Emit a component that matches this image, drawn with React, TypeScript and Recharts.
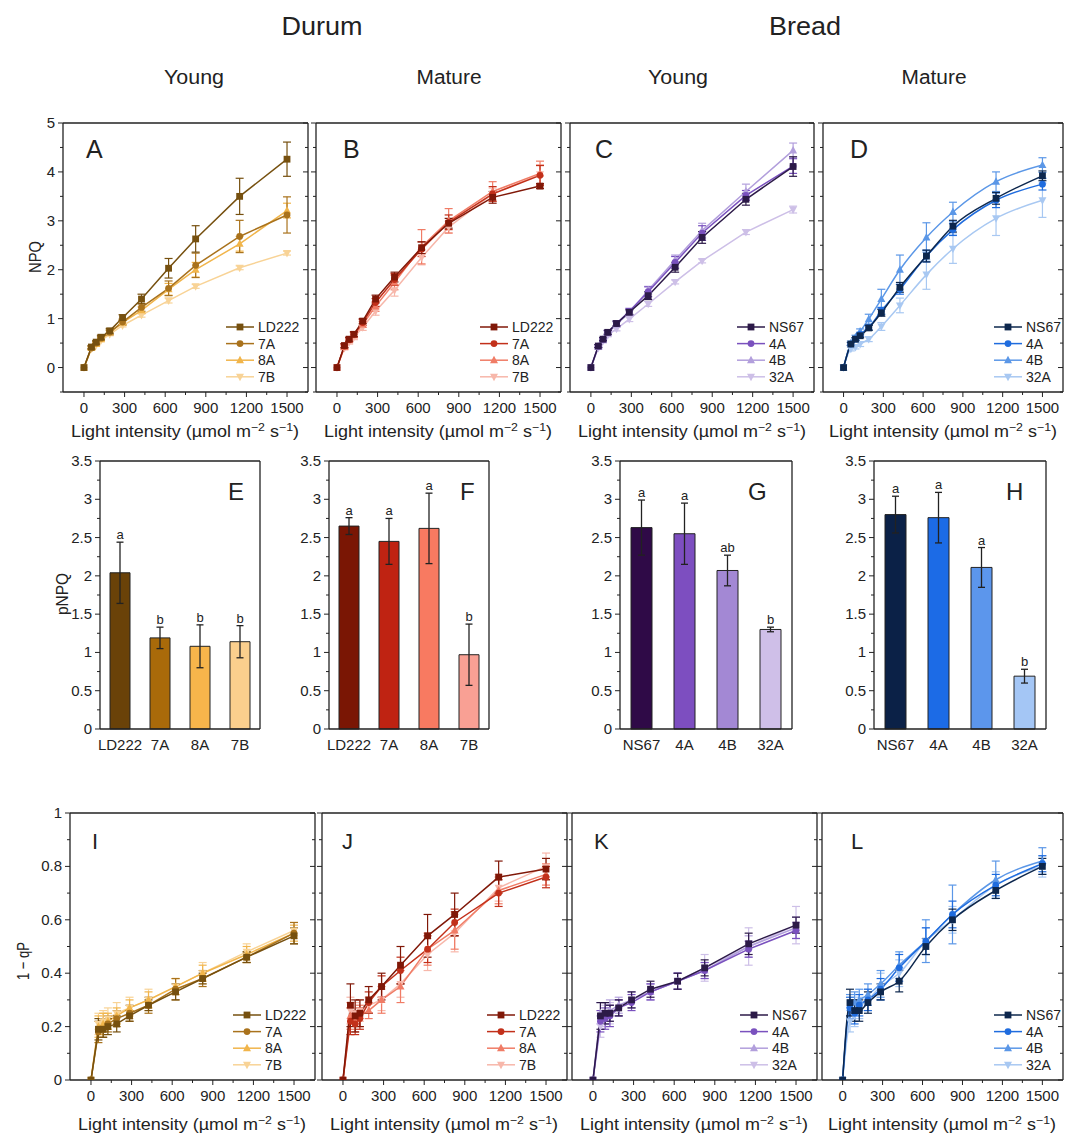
import React from 'react'
import { LineChart, Line, BarChart, Bar, Cell, XAxis, YAxis, ErrorBar, ReferenceLine, LabelList } from 'recharts'

const FONT = '"Liberation Sans", Arial, sans-serif'
const INK = '#222'

// light steps (µmol m-2 s-1)
const LIGHT = [0, 55, 90, 125, 190, 285, 425, 625, 825, 1150, 1500]
const LIGHT_TICKS = [0, 150, 300, 450, 600, 750, 900, 1050, 1200, 1350, 1500]
const NPQ_TICKS = [-0.5, 0, 0.5, 1, 1.5, 2, 2.5, 3, 3.5, 4, 4.5, 5]
const QP_TICKS = [0, 0.1, 0.2, 0.3, 0.4, 0.5, 0.6, 0.7, 0.8, 0.9, 1]
const PNPQ_TICKS = [0, 0.25, 0.5, 0.75, 1, 1.25, 1.5, 1.75, 2, 2.25, 2.5, 2.75, 3, 3.25, 3.5]

const DURUM = ['LD222', '7A', '8A', '7B']
const BREAD = ['NS67', '4A', '4B', '32A']
const SHAPES = ['square', 'circle', 'up', 'down']

const brownLine = ['#76500f', '#a9721c', '#f1b54b', '#f8d396']
const redLine = ['#801808', '#c2301a', '#f07c66', '#f7b7aa']
const purpleLine = ['#2c1a48', '#7a51be', '#b29fdc', '#cdbfe7']
const blueLine = ['#0d274d', '#1f6cde', '#5b97e7', '#a8c8f2']

const brownBar = ['#6a4208', '#a96a0a', '#f7b54b', '#fbcf8d']
const redBar = ['#7a1604', '#bf2312', '#f87a61', '#f9a094']
const purpleBar = ['#2f0a47', '#7d4ec0', '#a388d4', '#cfbfe8']
const blueBar = ['#0b2147', '#1c6be6', '#5c96ec', '#a4c6f5']

// NPQ, rows = genotypes in legend order
const npqA = [
  [0, 0.42, 0.52, 0.62, 0.75, 1.02, 1.40, 2.03, 2.63, 3.50, 4.26],
  [0, 0.40, 0.50, 0.60, 0.72, 0.93, 1.23, 1.62, 2.09, 2.68, 3.12],
  [0, 0.40, 0.48, 0.58, 0.72, 0.92, 1.17, 1.60, 2.00, 2.53, 3.21],
  [0, 0.38, 0.46, 0.55, 0.68, 0.86, 1.07, 1.37, 1.66, 2.04, 2.34],
]
const npqAErr = [
  [0, 0.03, 0.03, 0.04, 0.05, 0.06, 0.10, 0.20, 0.27, 0.37, 0.35],
  [0, 0.03, 0.03, 0.04, 0.05, 0.06, 0.08, 0.15, 0.25, 0.33, 0.37],
  [0, 0.03, 0.03, 0.03, 0.04, 0.05, 0.07, 0.12, 0.15, 0.15, 0.15],
  [0, 0.02, 0.02, 0.02, 0.03, 0.03, 0.04, 0.05, 0.04, 0.04, 0.04],
]
const npqB = [
  [0, 0.45, 0.58, 0.68, 0.95, 1.40, 1.85, 2.45, 2.95, 3.48, 3.71],
  [0, 0.44, 0.57, 0.68, 0.92, 1.33, 1.80, 2.42, 2.97, 3.55, 3.93],
  [0, 0.42, 0.56, 0.66, 0.88, 1.25, 1.74, 2.47, 3.00, 3.60, 3.97],
  [0, 0.40, 0.52, 0.62, 0.82, 1.15, 1.58, 2.25, 2.87, 3.55, 3.95],
]
const npqBErr = [
  [0, 0.04, 0.04, 0.05, 0.05, 0.08, 0.10, 0.12, 0.10, 0.12, 0.05],
  [0, 0.04, 0.04, 0.05, 0.06, 0.08, 0.12, 0.15, 0.15, 0.15, 0.20],
  [0, 0.04, 0.04, 0.05, 0.06, 0.10, 0.15, 0.35, 0.25, 0.20, 0.25],
  [0, 0.04, 0.04, 0.05, 0.06, 0.08, 0.12, 0.15, 0.12, 0.12, 0.20],
]
const npqC = [
  [0, 0.44, 0.58, 0.72, 0.90, 1.13, 1.47, 2.05, 2.66, 3.44, 4.11],
  [0, 0.44, 0.58, 0.72, 0.90, 1.15, 1.55, 2.15, 2.75, 3.52, 4.12],
  [0, 0.42, 0.56, 0.70, 0.88, 1.12, 1.58, 2.20, 2.80, 3.60, 4.44],
  [0, 0.40, 0.54, 0.66, 0.79, 0.99, 1.30, 1.75, 2.18, 2.77, 3.23],
]
const npqCErr = [
  [0, 0.03, 0.03, 0.04, 0.05, 0.05, 0.08, 0.10, 0.12, 0.12, 0.20],
  [0, 0.03, 0.03, 0.04, 0.05, 0.06, 0.10, 0.12, 0.15, 0.10, 0.15],
  [0, 0.03, 0.03, 0.04, 0.05, 0.06, 0.08, 0.10, 0.15, 0.15, 0.15],
  [0, 0.03, 0.03, 0.03, 0.04, 0.05, 0.05, 0.04, 0.04, 0.05, 0.07],
]
const npqD = [
  [0, 0.48, 0.58, 0.65, 0.81, 1.12, 1.64, 2.28, 2.89, 3.46, 3.92],
  [0, 0.48, 0.58, 0.68, 0.82, 1.16, 1.60, 2.28, 2.82, 3.42, 3.75],
  [0, 0.50, 0.62, 0.74, 0.99, 1.40, 2.00, 2.66, 3.18, 3.80, 4.14],
  [0, 0.38, 0.42, 0.48, 0.58, 0.84, 1.27, 1.90, 2.43, 3.05, 3.42],
]
const npqDErr = [
  [0, 0.03, 0.03, 0.04, 0.05, 0.07, 0.10, 0.12, 0.12, 0.12, 0.10],
  [0, 0.03, 0.03, 0.04, 0.05, 0.07, 0.10, 0.12, 0.12, 0.15, 0.12],
  [0, 0.04, 0.04, 0.05, 0.10, 0.20, 0.30, 0.30, 0.20, 0.20, 0.15],
  [0, 0.04, 0.04, 0.05, 0.05, 0.08, 0.15, 0.30, 0.30, 0.35, 0.35],
]

// pNPQ bars
const pnpqE = [2.04, 1.19, 1.08, 1.14]
const pnpqEErr = [0.40, 0.14, 0.28, 0.21]
const sigE = ['a', 'b', 'b', 'b']
const pnpqF = [2.65, 2.45, 2.62, 0.97]
const pnpqFErr = [0.11, 0.30, 0.46, 0.40]
const sigF = ['a', 'a', 'a', 'b']
const pnpqG = [2.63, 2.55, 2.07, 1.30]
const pnpqGErr = [0.36, 0.40, 0.20, 0.03]
const sigG = ['a', 'a', 'ab', 'b']
const pnpqH = [2.80, 2.76, 2.11, 0.69]
const pnpqHErr = [0.24, 0.33, 0.26, 0.09]
const sigH = ['a', 'a', 'a', 'b']

// 1 - qP
const qpI = [
  [0, 0.19, 0.19, 0.20, 0.21, 0.24, 0.28, 0.33, 0.38, 0.46, 0.54],
  [0, 0.18, 0.19, 0.21, 0.23, 0.25, 0.28, 0.34, 0.38, 0.46, 0.55],
  [0, 0.20, 0.21, 0.22, 0.24, 0.27, 0.30, 0.35, 0.40, 0.47, 0.55],
  [0, 0.21, 0.22, 0.23, 0.25, 0.27, 0.30, 0.35, 0.40, 0.48, 0.56],
]
const qpIErr = [
  [0, 0.04, 0.03, 0.03, 0.03, 0.02, 0.02, 0.03, 0.02, 0.02, 0.03],
  [0, 0.04, 0.03, 0.03, 0.03, 0.03, 0.03, 0.04, 0.03, 0.02, 0.04],
  [0, 0.04, 0.04, 0.03, 0.03, 0.03, 0.03, 0.03, 0.03, 0.03, 0.03],
  [0, 0.04, 0.04, 0.04, 0.04, 0.04, 0.04, 0.03, 0.04, 0.03, 0.03],
]
const qpJ = [
  [0, 0.28, 0.24, 0.25, 0.30, 0.35, 0.43, 0.54, 0.62, 0.76, 0.79],
  [0, 0.22, 0.21, 0.23, 0.29, 0.35, 0.41, 0.49, 0.59, 0.70, 0.76],
  [0, 0.24, 0.22, 0.24, 0.26, 0.30, 0.35, 0.49, 0.56, 0.71, 0.77],
  [0, 0.26, 0.25, 0.26, 0.28, 0.30, 0.36, 0.47, 0.55, 0.72, 0.80],
]
const qpJErr = [
  [0, 0.08, 0.06, 0.05, 0.05, 0.05, 0.07, 0.08, 0.08, 0.06, 0.04],
  [0, 0.05, 0.04, 0.04, 0.04, 0.04, 0.05, 0.05, 0.05, 0.05, 0.04],
  [0, 0.05, 0.04, 0.04, 0.03, 0.05, 0.06, 0.06, 0.07, 0.05, 0.04],
  [0, 0.05, 0.04, 0.04, 0.03, 0.04, 0.05, 0.06, 0.07, 0.05, 0.05],
]
const qpK = [
  [0, 0.24, 0.25, 0.25, 0.27, 0.30, 0.34, 0.37, 0.42, 0.51, 0.58],
  [0, 0.22, 0.23, 0.24, 0.27, 0.29, 0.33, 0.37, 0.41, 0.49, 0.56],
  [0, 0.25, 0.25, 0.26, 0.28, 0.30, 0.33, 0.37, 0.41, 0.50, 0.57],
  [0, 0.20, 0.24, 0.25, 0.27, 0.30, 0.33, 0.37, 0.42, 0.50, 0.58],
]
const qpKErr = [
  [0, 0.05, 0.04, 0.03, 0.03, 0.03, 0.03, 0.03, 0.03, 0.04, 0.03],
  [0, 0.04, 0.04, 0.04, 0.03, 0.03, 0.03, 0.03, 0.03, 0.03, 0.03],
  [0, 0.04, 0.04, 0.04, 0.03, 0.03, 0.03, 0.03, 0.03, 0.04, 0.04],
  [0, 0.04, 0.04, 0.04, 0.03, 0.03, 0.03, 0.03, 0.05, 0.07, 0.07],
]
const qpL = [
  [0, 0.29, 0.26, 0.26, 0.29, 0.33, 0.37, 0.50, 0.60, 0.71, 0.80],
  [0, 0.27, 0.25, 0.28, 0.30, 0.34, 0.42, 0.52, 0.62, 0.73, 0.81],
  [0, 0.28, 0.29, 0.30, 0.32, 0.36, 0.43, 0.52, 0.62, 0.75, 0.82],
  [0, 0.22, 0.24, 0.27, 0.30, 0.35, 0.40, 0.52, 0.60, 0.73, 0.80],
]
const qpLErr = [
  [0, 0.05, 0.04, 0.04, 0.04, 0.03, 0.04, 0.03, 0.04, 0.03, 0.03],
  [0, 0.04, 0.04, 0.04, 0.04, 0.04, 0.05, 0.05, 0.05, 0.04, 0.03],
  [0, 0.04, 0.04, 0.04, 0.04, 0.05, 0.05, 0.08, 0.11, 0.07, 0.05],
  [0, 0.04, 0.04, 0.04, 0.04, 0.05, 0.05, 0.05, 0.05, 0.05, 0.04],
]

const ML = 50, MR = 4, MT = 12, MB = 28
const X_DOMAIN: [number, number] = [-155, 1655]
const AXIS_LINE = { stroke: INK, strokeWidth: 1.3 }

const isMajor = (v: number, step: number) => Math.abs(v / step - Math.round(v / step)) < 1e-6

function Marker({ cx, cy, shape, color, s = 3.4 }: { cx?: number; cy?: number; shape: string; color: string; s?: number }) {
  if (cx == null || cy == null || isNaN(cx) || isNaN(cy)) return null
  if (shape === 'square') return <rect x={cx - s} y={cy - s} width={2 * s} height={2 * s} fill={color} />
  if (shape === 'circle') return <circle cx={cx} cy={cy} r={s} fill={color} />
  if (shape === 'up')
    return <polygon points={`${cx},${cy - s - 1} ${cx - s - 0.6},${cy + s - 0.4} ${cx + s + 0.6},${cy + s - 0.4}`} fill={color} />
  return <polygon points={`${cx},${cy + s + 1} ${cx - s - 0.6},${cy - s + 0.4} ${cx + s + 0.6},${cy - s + 0.4}`} fill={color} />
}

// ticks are drawn by hand so minor ticks can be shorter than major ones
const xTick = (step: number) => (p: any) => {
  const v = p.payload.value
  const major = isMajor(v, step)
  return (
    <g>
      <line x1={p.x} x2={p.x} y1={p.y} y2={p.y + (major ? 5 : 3)} stroke={INK} />
      {major && (
        <text x={p.x} y={p.y + 21} textAnchor="middle" fontSize={15} fill={INK} fontFamily={FONT}>{v}</text>
      )}
    </g>
  )
}

const yTick = (step: number, labels: boolean) => (p: any) => {
  const v = p.payload.value
  const major = isMajor(v, step)
  return (
    <g>
      <line x1={p.x} x2={p.x - (major ? 5 : 3)} y1={p.y} y2={p.y} stroke={INK} />
      {labels && major && (
        <text x={p.x - 8} y={p.y + 5} textAnchor="end" fontSize={15} fill={INK} fontFamily={FONT}>{v}</text>
      )}
    </g>
  )
}

function LegendBox({ names, colors, left, top }: { names: string[]; colors: string[]; left: number; top: number }) {
  return (
    <svg style={{ position: 'absolute', left, top, overflow: 'visible' }} width={90} height={70}>
      {names.map((n, i) => {
        const cy = 8 + i * 16.6
        return (
          <g key={n}>
            <line x1={0} x2={28} y1={cy} y2={cy} stroke={colors[i]} strokeWidth={1.5} />
            <Marker cx={14} cy={cy} shape={SHAPES[i]} color={colors[i]} />
            <text x={32} y={cy + 5} fontSize={14} fill={INK} fontFamily={FONT}>{n}</text>
          </g>
        )
      })}
    </svg>
  )
}

type LineProps = {
  left: number; top: number; w: number; h: number
  series: number[][]; errs: number[][]; names: string[]; colors: string[]
  yDomain: [number, number]; yTicks: number[]; yStep: number; yLabels: boolean
  smooth?: boolean; legendOffset: number
}

function LinePanel(p: LineProps) {
  const rows = LIGHT.map((x, i) => {
    const r: Record<string, number> = { x }
    p.series.forEach((s, k) => {
      r['s' + k] = s[i]
      r['e' + k] = p.errs[k][i]
    })
    return r
  })
  const order = [3, 2, 1, 0]
  return (
    <div style={{ position: 'absolute', left: p.left - ML, top: p.top - MT }}>
      <LineChart width={ML + p.w + MR} height={MT + p.h + MB} data={rows} margin={{ top: MT, right: MR, left: 0, bottom: 0 }}>
        <XAxis type="number" dataKey="x" domain={X_DOMAIN} allowDataOverflow ticks={LIGHT_TICKS} interval={0}
          tickSize={0} tickMargin={0} tick={xTick(300)} height={MB} axisLine={AXIS_LINE} tickLine={false} />
        <YAxis type="number" domain={p.yDomain} allowDataOverflow ticks={p.yTicks} interval={0} width={ML}
          tickSize={0} tickMargin={0} tick={yTick(p.yStep, p.yLabels)} axisLine={AXIS_LINE} tickLine={false} />
        <YAxis yAxisId="r" orientation="right" mirror type="number" domain={p.yDomain} allowDataOverflow ticks={p.yTicks}
          interval={0} tickSize={0} tickMargin={0} tick={yTick(p.yStep, false)} axisLine={AXIS_LINE} tickLine={false} />
        <ReferenceLine y={p.yDomain[1]} stroke={INK} strokeWidth={1.3} />
        {order.map(k => (
          <Line key={k} dataKey={'s' + k} type={p.smooth ? 'monotone' : 'linear'} stroke={p.colors[k]} strokeWidth={1.5}
            isAnimationActive={false} activeDot={false}
            dot={(d: any) => <Marker key={'d' + k + '-' + d.index} cx={d.cx} cy={d.cy} shape={SHAPES[k]} color={p.colors[k]} />}>
            <ErrorBar dataKey={'e' + k} width={4} stroke={p.colors[k]} strokeWidth={1.2} direction="y" isAnimationActive={false} />
          </Line>
        ))}
      </LineChart>
      <LegendBox names={p.names} colors={p.colors} left={ML + p.w - p.legendOffset} top={MT + p.h - 73} />
    </div>
  )
}

type BarProps = {
  left: number; top: number; w: number; h: number; barSize: number
  names: string[]; vals: number[]; errs: number[]; sig: string[]; colors: string[]
}

function BarPanel(p: BarProps) {
  const rows = p.names.map((n, i) => ({ name: n, v: p.vals[i], e: p.errs[i], sig: p.sig[i] }))
  const catTick = (t: any) => (
    <text x={t.x} y={t.y + 21} textAnchor="middle" fontSize={15} fill={INK} fontFamily={FONT}>{t.payload.value}</text>
  )
  return (
    <div style={{ position: 'absolute', left: p.left - ML, top: p.top - MT }}>
      <BarChart width={ML + p.w + MR} height={MT + p.h + MB} data={rows} margin={{ top: MT, right: MR, left: 0, bottom: 0 }}>
        <XAxis dataKey="name" interval={0} tickSize={0} tickMargin={0} tick={catTick} height={MB}
          axisLine={AXIS_LINE} tickLine={false} />
        <YAxis type="number" domain={[0, 3.5]} ticks={PNPQ_TICKS} interval={0} width={ML}
          tickSize={0} tickMargin={0} tick={yTick(0.5, true)} axisLine={AXIS_LINE} tickLine={false} />
        <YAxis yAxisId="r" orientation="right" mirror type="number" domain={[0, 3.5]} ticks={PNPQ_TICKS}
          interval={0} tickSize={0} tickMargin={0} tick={yTick(0.5, false)} axisLine={AXIS_LINE} tickLine={false} />
        <ReferenceLine y={3.5} stroke={INK} strokeWidth={1.3} />
        <Bar dataKey="v" stroke={INK} strokeWidth={1} barSize={p.barSize} isAnimationActive={false}>
          {rows.map((r, i) => <Cell key={r.name} fill={p.colors[i]} />)}
          <ErrorBar dataKey="e" width={3.5} stroke={INK} strokeWidth={1.3} direction="y" isAnimationActive={false} />
          <LabelList dataKey="sig" content={(lp: any) => {
            const r = rows[lp.index]
            if (!r) return null
            const top = lp.y - r.e * (lp.height / r.v)
            return (
              <text key={'sig' + lp.index} x={lp.x + lp.width / 2} y={top - 3} textAnchor="middle" fontSize={13}
                style={{ fill: INK, stroke: 'none', fontFamily: FONT }}>
                {lp.value}
              </text>
            )
          }} />
        </Bar>
      </BarChart>
    </div>
  )
}

function XTitle({ cx, y }: { cx: number; y: number }) {
  return (
    <text x={cx} y={y} textAnchor="middle" fontSize={16} fill={INK} fontFamily={FONT} textLength={228} lengthAdjust="spacingAndGlyphs">
      Light intensity (µmol m<tspan dy={-6} fontSize={11}>−2</tspan><tspan dy={6}> s</tspan><tspan dy={-6} fontSize={11}>−1</tspan><tspan dy={6}>)</tspan>
    </text>
  )
}

const txt = { fill: INK, fontFamily: FONT }

export default function App() {
  const top1 = { top: 123, h: 269 }
  const top3 = { top: 813, h: 267 }
  const bars = { top: 461, h: 268 }
  return (
    <div style={{ position: 'absolute', left: 0, top: 0, width: 1067, height: 1136, background: '#fff', overflow: 'hidden' }}>
      <LinePanel left={63} w={245} {...top1} series={npqA} errs={npqAErr} names={DURUM} colors={brownLine}
        yDomain={[-0.5, 5]} yTicks={NPQ_TICKS} yStep={1} yLabels legendOffset={82} />
      <LinePanel left={316} w={245} {...top1} series={npqB} errs={npqBErr} names={DURUM} colors={redLine}
        yDomain={[-0.5, 5]} yTicks={NPQ_TICKS} yStep={1} yLabels={false} legendOffset={81} />
      <LinePanel left={570} w={244} {...top1} series={npqC} errs={npqCErr} names={BREAD} colors={purpleLine}
        yDomain={[-0.5, 5]} yTicks={NPQ_TICKS} yStep={1} yLabels={false} legendOffset={77} />
      <LinePanel left={823} w={240} {...top1} series={npqD} errs={npqDErr} names={BREAD} colors={blueLine}
        yDomain={[-0.5, 5]} yTicks={NPQ_TICKS} yStep={1} yLabels={false} smooth legendOffset={69} />

      <BarPanel left={100} w={160} {...bars} barSize={20} names={DURUM} vals={pnpqE} errs={pnpqEErr} sig={sigE} colors={brownBar} />
      <BarPanel left={329} w={160} {...bars} barSize={20} names={DURUM} vals={pnpqF} errs={pnpqFErr} sig={sigF} colors={redBar} />
      <BarPanel left={620} w={172} {...bars} barSize={21} names={BREAD} vals={pnpqG} errs={pnpqGErr} sig={sigG} colors={purpleBar} />
      <BarPanel left={874} w={172} {...bars} barSize={21} names={BREAD} vals={pnpqH} errs={pnpqHErr} sig={sigH} colors={blueBar} />

      <LinePanel left={70} w={245} {...top3} series={qpI} errs={qpIErr} names={DURUM} colors={brownLine}
        yDomain={[0, 1]} yTicks={QP_TICKS} yStep={0.2} yLabels legendOffset={82} />
      <LinePanel left={322} w={245} {...top3} series={qpJ} errs={qpJErr} names={DURUM} colors={redLine}
        yDomain={[0, 1]} yTicks={QP_TICKS} yStep={0.2} yLabels={false} legendOffset={80} />
      <LinePanel left={572} w={245} {...top3} series={qpK} errs={qpKErr} names={BREAD} colors={purpleLine}
        yDomain={[0, 1]} yTicks={QP_TICKS} yStep={0.2} yLabels={false} legendOffset={77} />
      <LinePanel left={822} w={241} {...top3} series={qpL} errs={qpLErr} names={BREAD} colors={blueLine}
        yDomain={[0, 1]} yTicks={QP_TICKS} yStep={0.2} yLabels={false} smooth legendOffset={69} />

      <svg width={1067} height={1136} style={{ position: 'absolute', left: 0, top: 0, pointerEvents: 'none' }}>
        <text x={322} y={35} textAnchor="middle" fontSize={25} textLength={81} lengthAdjust="spacingAndGlyphs" {...txt}>Durum</text>
        <text x={805} y={35} textAnchor="middle" fontSize={25} textLength={72} lengthAdjust="spacingAndGlyphs" {...txt}>Bread</text>
        <text x={194} y={84} textAnchor="middle" fontSize={20} textLength={60} lengthAdjust="spacingAndGlyphs" {...txt}>Young</text>
        <text x={449} y={84} textAnchor="middle" fontSize={20} textLength={65} lengthAdjust="spacingAndGlyphs" {...txt}>Mature</text>
        <text x={678} y={84} textAnchor="middle" fontSize={20} textLength={60} lengthAdjust="spacingAndGlyphs" {...txt}>Young</text>
        <text x={934} y={84} textAnchor="middle" fontSize={20} textLength={65} lengthAdjust="spacingAndGlyphs" {...txt}>Mature</text>

        <text transform="translate(41,257) rotate(-90)" textAnchor="middle" fontSize={16} textLength={32} lengthAdjust="spacingAndGlyphs" {...txt}>NPQ</text>
        <text transform="translate(68,594) rotate(-90)" textAnchor="middle" fontSize={16} textLength={42} lengthAdjust="spacingAndGlyphs" {...txt}>pNPQ</text>
        <text transform="translate(29,961) rotate(-90)" textAnchor="middle" fontSize={17} textLength={38} lengthAdjust="spacingAndGlyphs" {...txt}>1 − qP</text>

        <XTitle cx={185} y={437} />
        <XTitle cx={438} y={437} />
        <XTitle cx={692} y={437} />
        <XTitle cx={943} y={437} />
        <XTitle cx={192} y={1130} />
        <XTitle cx={444} y={1130} />
        <XTitle cx={694} y={1130} />
        <XTitle cx={942} y={1130} />

        <text x={86} y={158} fontSize={25} {...txt}>A</text>
        <text x={343} y={158} fontSize={25} {...txt}>B</text>
        <text x={595} y={158} fontSize={25} {...txt}>C</text>
        <text x={850} y={158} fontSize={25} {...txt}>D</text>
        <text x={228} y={500} fontSize={24} {...txt}>E</text>
        <text x={460} y={500} fontSize={24} {...txt}>F</text>
        <text x={748} y={500} fontSize={24} {...txt}>G</text>
        <text x={1006} y={500} fontSize={24} {...txt}>H</text>
        <text x={92} y={849} fontSize={22} {...txt}>I</text>
        <text x={342} y={849} fontSize={22} {...txt}>J</text>
        <text x={594} y={849} fontSize={22} {...txt}>K</text>
        <text x={851} y={849} fontSize={22} {...txt}>L</text>
      </svg>
    </div>
  )
}
